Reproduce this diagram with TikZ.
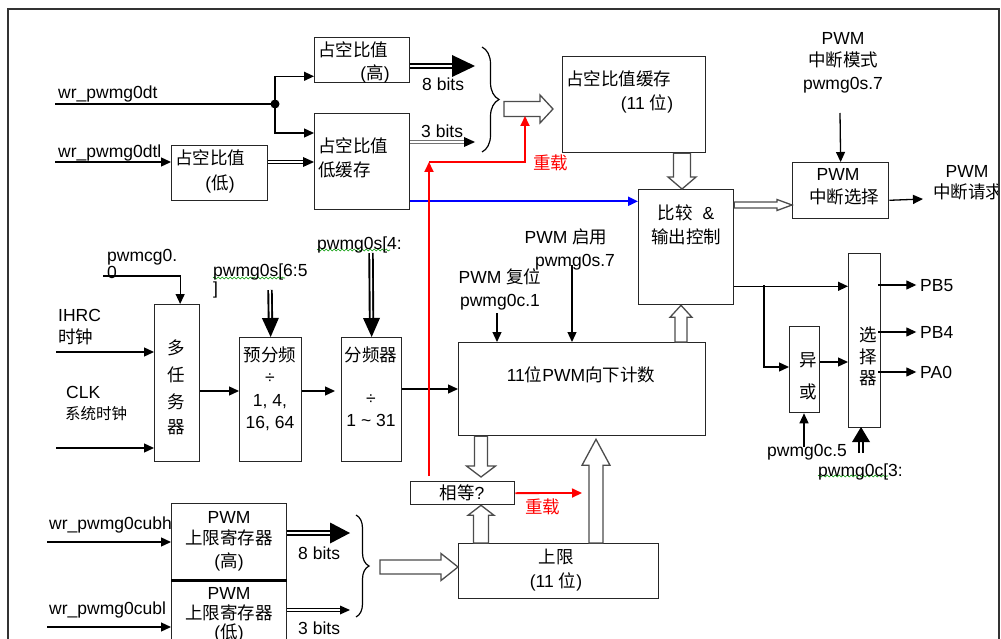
\documentclass[tikz,border=0pt]{standalone}
\usepackage{fontspec}
\setmainfont{Liberation Sans}
\newfontfamily\cjk{Noto Sans CJK SC}
\usetikzlibrary{arrows.meta,calc,decorations.pathreplacing,decorations.pathmorphing}
\newcommand\zh[1]{{\cjk #1}}
% hollow block arrow: from, to, half body, half head, head length
\newcommand\fatarrow[5]{%
  \coordinate (fab) at ($(#2)!#5!(#1)$);
  \draw[fat] ($(#1)!#3!90:(#2)$) -- ($(fab)!#3!90:(#2)$) -- ($(fab)!#4!90:(#2)$) -- (#2)
    -- ($(fab)!#4!-90:(#2)$) -- ($(fab)!#3!-90:(#2)$) -- ($(#1)!#3!-90:(#2)$) -- cycle;}
% shaft style, from, to, head length, half head width
\newcommand\solidhead[5]{%
  \coordinate (shb) at ($(#3)!#4!(#2)$);
  \draw[#1] (#2) -- (shb);
  \fill[black] (#3) -- ($(shb)!#5!90:(#3)$) -- ($(shb)!#5!-90:(#3)$) -- cycle;}
\begin{document}
\begin{tikzpicture}[x=1pt,y=-1pt,
  font=\fontsize{17.5}{22}\selectfont,
  box/.style={draw=black!85, line width=1.3pt, anchor=north west, inner sep=0pt},
  t/.style={inner sep=0pt, text height=12.6pt, text depth=0pt},
  tw/.style={t, anchor=west},
  ln/.style={line width=1.3pt},
  arr/.style={line width=1.3pt, -{Triangle[length=10pt,width=9pt]}},
  fat/.style={draw=black!70, line width=1.3pt, fill=white, line join=miter},
  dbl/.style={draw=black, double=white, double distance=1.8pt, line width=0.9pt},
  gdbl/.style={draw=black!55, double=white, double distance=2pt, line width=1pt},
  tdbl/.style={draw=black, double=white, double distance=1.6pt, line width=1.9pt},
  rd/.style={draw=red, line width=1.8pt, -{Triangle[length=10pt,width=9pt]}},
  bd/.style={draw=blue, line width=2pt, -{Triangle[length=10pt,width=9pt]}},
  brc/.style={decorate, decoration={brace, amplitude=#1}, line width=1.2pt},
  sq/.style={draw=green!60!black, line width=0.6pt, decorate, decoration={snake, amplitude=1pt, segment length=4pt}}
]
\useasboundingbox (0,0) rectangle (1001,639);
\fill[white] (0,0) rectangle (1001,639);

% boxes
\node[box, minimum width=95pt, minimum height=45pt] (hi) at (314,37) {};
\node[box, minimum width=95pt, minimum height=96pt] (lb) at (314,113) {};
\node[box, minimum width=96pt, minimum height=55pt] (lo) at (171,145) {};
\node[box, minimum width=143pt, minimum height=96pt] (buf) at (562,56) {};
\node[box, minimum width=95pt, minimum height=115pt] (cmp) at (638,189) {};
\node[box, minimum width=96pt, minimum height=56pt] (isel) at (792,162) {};
\node[box, minimum width=247pt, minimum height=93pt] (cnt) at (458,342) {};
\node[box, minimum width=104pt, minimum height=23pt] (eq) at (410,481) {};
\node[box, minimum width=200pt, minimum height=55pt] (lim) at (458,543) {};
\node[box, minimum width=45pt, minimum height=157pt] (mux) at (154,304) {};
\node[box, minimum width=62pt, minimum height=124pt] (pre) at (239,337) {};
\node[box, minimum width=60pt, minimum height=124pt] (div) at (341,337) {};
\node[box, minimum width=30pt, minimum height=86pt] (xor) at (789,326) {};
\node[box, minimum width=32pt, minimum height=174pt] (sel) at (848,253) {};
\node[box, minimum width=115pt, minimum height=76pt] (uph) at (171,503) {};
\node[box, minimum width=115pt, minimum height=75pt] (upl) at (171,579) {};
\draw[line width=3pt] (uph.south west) -- (uph.south east);

% coordinates
\coordinate (dt0) at (55,104);
\coordinate (jn) at (275,104);
\coordinate (hi75) at ($(hi.south west)+(0,-7)$);
\coordinate (lb133) at ($(lb.north west)+(0,20)$);
\coordinate (dtl0) at (55,162);
\coordinate (l2a) at ($(lo.north east)+(0,17)$);
\coordinate (l2b) at (lb.west |- l2a);
\coordinate (e8a) at ($(hi.north east)+(0,29)$);
\coordinate (e8b) at (475,66);
\coordinate (e3a) at ($(lb.north east)+(0,29)$);
\coordinate (e3b) at (475,142);
\coordinate (bt1) at (482,47);
\coordinate (bt2) at (482,152);
\coordinate (h1a) at (504,109);
\coordinate (h1b) at (553,109);
\coordinate (r0) at ($(eq.north west)+(19,-5)$);
\coordinate (r1) at (429,162);
\coordinate (r2) at (525,116);
\coordinate (bl) at ($(lb.south east)+(0,-9)$);
\coordinate (bl2) at (bl -| cmp.west);

% top-left inputs
\draw[ln] (dt0) -- (jn);
\fill (jn) circle (4.5);
\draw[arr] (jn) |- (hi75);
\draw[arr] (jn) |- (lb133);
\draw[arr] (dtl0) -- (dtl0 -| lo.west);
\solidhead{dbl}{l2a}{l2b}{11pt}{5pt}
\solidhead{tdbl}{e8a}{e8b}{23pt}{11pt}
\solidhead{gdbl}{e3a}{e3b}{11pt}{5pt}
\draw[brc=17pt] (bt1) -- (bt2);
\fatarrow{h1a}{h1b}{7.5pt}{14pt}{13pt}

% blue
\draw[bd] (bl) -- (bl2);

% hollow arrows
\coordinate (h2a) at ($(buf.south west)+(120,0)$);
\coordinate (h2b) at (h2a |- cmp.north);
\fatarrow{h2a}{h2b}{8.5pt}{14pt}{12pt}
\coordinate (h3a) at ($(cnt.north west)+(223,0)$);
\coordinate (h3b) at (h3a |- cmp.south);
\fatarrow{h3a}{h3b}{6pt}{11pt}{12pt}
\coordinate (h4a) at ($(cnt.south west)+(23,0)$);
\coordinate (h4b) at ($(h4a |- eq.north)+(0,-4)$);
\fatarrow{h4a}{h4b}{6.5pt}{14.5pt}{11pt}
\coordinate (h5a) at ($(lim.north west)+(23,0)$);
\coordinate (h5b) at (h5a |- eq.south);
\fatarrow{h5a}{h5b}{7.5pt}{13pt}{10pt}
\coordinate (h6a) at ($(lim.north west)+(138,0)$);
\coordinate (h6b) at ($(h6a |- cnt.south)+(0,3)$);
\fatarrow{h6a}{h6b}{7pt}{14pt}{26pt}
\coordinate (h7a) at (380,567);
\coordinate (h7b) at (h7a -| lim.west);
\fatarrow{h7a}{h7b}{7pt}{13.5pt}{17pt}
\coordinate (h8a) at ($(cmp.north east)+(0,16)$);
\coordinate (h8b) at (h8a -| isel.west);
\fatarrow{h8a}{h8b}{3pt}{5.5pt}{15pt}

% interrupt
\coordinate (im0) at (840,113);
\draw[arr] (im0) -- (isel.north);
\coordinate (iso) at ($(isel.south east)+(0,-19)$);
\coordinate (iso2) at (923,199);
\draw[arr] (iso) -- (iso2);

% counter inputs
\coordinate (rs) at (497,313);
\draw[arr] (rs) -- (rs |- cnt.north);
\coordinate (en) at (572,265);
\draw[arr] (en) -- (en |- cnt.north);
\coordinate (dvo) at ($(div.north east)+(0,52)$);
\draw[arr] (dvo) -- (dvo -| cnt.west);

% clock chain
\coordinate (mc) at (103,276);
\coordinate (mcd) at ($(mux.north)+(3,0)$);
\draw[arr] (mc) -| (mcd);
\coordinate (ih) at (56,352);
\draw[arr] (ih) -- (ih -| mux.west);
\coordinate (ck) at (56,448);
\draw[arr] (ck) -- (ck -| mux.west);
\coordinate (m1) at ($(mux.north east)+(0,87)$);
\draw[arr] (m1) -- (m1 -| pre.west);
\coordinate (p1) at ($(pre.north east)+(0,54)$);
\coordinate (p2) at ($(p1 -| div.west)+(-6,0)$);
\draw[arr] (p1) -- (p2);
\coordinate (ps0) at (270,290);
\solidhead{tdbl}{ps0}{pre.north}{19pt}{8.5pt}
\coordinate (ds0) at (371,253);
\solidhead{tdbl}{ds0}{div.north}{19pt}{8.5pt}

% output section
\coordinate (co) at ($(cmp.south east)+(0,-19)$);
\coordinate (br) at (764,285);
\draw[arr] (co) -- (co -| sel.west);
\coordinate (br2) at (764,367);
\draw[arr] (br) -- (br2) -- (br2 -| xor.west);
\coordinate (xo) at ($(xor.north east)+(0,36)$);
\draw[arr] (xo) -- (xo -| sel.west);
\coordinate (o5) at ($(sel.north east)+(-3,32)$);
\coordinate (o4) at ($(sel.north east)+(-3,79)$);
\coordinate (o0) at ($(sel.north east)+(-3,119)$);
\draw[arr] (o5) -- ++(38,0);
\draw[arr] (o4) -- ++(38,0);
\draw[arr] (o0) -- ++(38,0);
\coordinate (c5) at (804,447);
\draw[arr] (c5) -- (c5 |- xor.south);
\coordinate (sc0) at (861,453);
\coordinate (sc1) at (861,427);
\solidhead{tdbl}{sc0}{sc1}{15pt}{9pt}

% lower registers
\coordinate (ch) at (47,542);
\draw[arr] (ch) -- (ch -| uph.west);
\coordinate (cl) at (47,627);
\draw[arr] (cl) -- (cl -| upl.west);
\coordinate (u8a) at ($(uph.north east)+(0,30)$);
\coordinate (u8b) at (350,533);
\solidhead{tdbl}{u8a}{u8b}{20pt}{10.5pt}
\coordinate (u3a) at ($(upl.north east)+(0,31)$);
\coordinate (u3b) at (350,610);
\solidhead{dbl}{u3a}{u3b}{10pt}{4.5pt}
\coordinate (bb1) at (356,515);
\coordinate (bb2) at (356,617);
\draw[brc=13pt] (bb1) -- (bb2);

% red reload
\draw[rd] (r0) -- (r1);
\draw[rd] (r1) -| (r2);
\coordinate (eqr) at (582,493);
\draw[rd] (eq.east) -- (eqr);

% squiggles
\draw[sq] (213,278) -- (285,278);
\draw[sq] (317,250) -- (390,250);
\draw[sq] (818,476) -- (888,476);

% texts
\node[tw] (tdt) at (58,92) {wr\_pwmg0dt};
\node[tw] (tdtl) at (58,151) {wr\_pwmg0dtl};
\node[tw] (thi1) at (318,50) {\zh{占空比值}};
\node[t] (thi2) at (375,73) {(\zh{高})};
\node[tw] (tlb1) at (318,146) {\zh{占空比值}};
\node[tw] (tlb2) at (318,170) {\zh{低缓存}};
\node[tw] (tlo1) at (175,158) {\zh{占空比值}};
\node[t] (tlo2) at (220,183) {(\zh{低})};
\node[tw] (t8a) at (422,84) {8 bits};
\node[tw] (t3a) at (421,131) {3 bits};
\node[tw] (tbuf1) at (566,79) {\zh{占空比值缓存}};
\node[t] (tbuf2) at (647,103) {(11 \zh{位})};
\node[tw, red] (trl1) at (533,163) {\zh{重载}};
\node[t] (tim1) at (843,38) {PWM};
\node[t] (tim2) at (843,60) {\zh{中断模式}};
\node[t] (tim3) at (843,83) {pwmg0s.7};
\node[t] (tis1) at (838,174) {PWM};
\node[t] (tis2) at (844,197) {\zh{中断选择}};
\node[t] (tir1) at (967,171) {PWM};
\node[tw] (tir2) at (933,192) {\zh{中断请求}};
\node[t] (tcmp1) at (686,213) {\zh{比较}\ \ \&};
\node[t] (tcmp2) at (686,237) {\zh{输出控制}};
\node[t] (ten1) at (566,237) {PWM \zh{启用}};
\node[t] (ten2) at (575,260) {pwmg0s.7};
\node[t] (trs1) at (500,277) {PWM \zh{复位}};
\node[t] (trs2) at (500,300) {pwmg0c.1};
\node[t] (tcnt) at (581,375) {11\zh{位}PWM\zh{向下计数}};
\node[t] (teq) at (462,493) {\zh{相等}?};
\node[tw, red] (trl2) at (525,507) {\zh{重载}};
\node[tw] (tmc1) at (107,255) {pwmcg0.};
\node[tw] (tmc2) at (107,272) {0};
\node[tw] (tih1) at (58,315) {IHRC};
\node[tw] (tih2) at (58,337) {\zh{时钟}};
\node[tw] (tck1) at (66,392) {CLK};
\node[tw, font=\fontsize{15.5}{18}\selectfont] (tck2) at (65,413) {\zh{系统时钟}};
\node[t] (tm1) at (176,348) {\zh{多}};
\node[t] (tm2) at (176,375) {\zh{任}};
\node[t] (tm3) at (176,402) {\zh{务}};
\node[t] (tm4) at (176,427) {\zh{器}};
\node[tw] (tps1) at (213,270) {pwmg0s[6:5};
\node[tw] (tps2) at (213,288) {]};
\node[t] (tpre1) at (270,355) {\zh{预分频}};
\node[t] (tpre2) at (270,377) {÷};
\node[t] (tpre3) at (270,400) {1, 4,};
\node[t] (tpre4) at (270,422) {16, 64};
\node[t] (tdv1) at (371,355) {\zh{分频器}};
\node[t] (tdv2) at (371,398) {÷};
\node[t] (tdv3) at (371,420) {1 \textasciitilde{} 31};
\node[tw] (tds) at (317,243) {pwmg0s[4:};
\node[t] (tx1) at (808,360) {\zh{异}};
\node[t] (tx2) at (808,392) {\zh{或}};
\node[t] (ts1) at (868,335) {\zh{选}};
\node[t] (ts2) at (868,357) {\zh{择}};
\node[t] (ts3) at (868,378) {\zh{器}};
\node[tw] (tpb5) at (920,285) {PB5};
\node[tw] (tpb4) at (920,332) {PB4};
\node[tw] (tpa0) at (920,372) {PA0};
\node[tw] (tc5) at (767,450) {pwmg0c.5};
\node[tw] (tc3) at (818,470) {pwmg0c[3:};
\node[tw] (tcubh) at (49,523) {wr\_pwmg0cubh};
\node[tw] (tcubl) at (49,608) {wr\_pwmg0cubl};
\node[t] (tu1) at (229,517) {PWM};
\node[t] (tu2) at (229,538) {\zh{上限寄存器}};
\node[t] (tu3) at (229,561) {(\zh{高})};
\node[t] (tl1) at (229,593) {PWM};
\node[t] (tl2) at (229,613) {\zh{上限寄存器}};
\node[t] (tl3) at (229,632) {(\zh{低})};
\node[tw] (t8b) at (298,553) {8 bits};
\node[tw] (t3b) at (298,628) {3 bits};
\node[t] (tlim1) at (556,557) {\zh{上限}};
\node[t] (tlim2) at (556,581) {(11 \zh{位})};

% frame (drawn last; the text at the right edge runs under it)
\fill[white] (1000,0) rectangle (1010,650);
\draw[line width=1.3pt, black!80] (8,650) -- (8,9) -- (999,9) -- (999,650);
\end{tikzpicture}
\end{document}
